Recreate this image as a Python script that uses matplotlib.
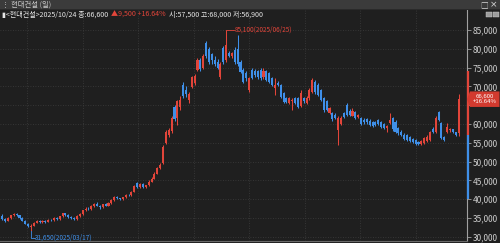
import matplotlib
matplotlib.use('Agg')
import matplotlib.pyplot as plt
from matplotlib.patches import Rectangle, Polygon
from matplotlib.ticker import FuncFormatter
import matplotlib.transforms as mtransforms
import numpy as np

plt.rcParams['font.family'] = ['Noto Sans CJK KR', 'DejaVu Sans']

# ---------------- data ----------------
opens = [
    35500, 34800, 34300, 35000, 35700, 36100, 35700, 35000, 34300, 33500,
    32600, 33000, 33800, 34300, 33900, 34200, 34000, 34600, 34400, 35000,
    34700, 35400, 36200, 35800, 35300, 35000, 34700, 35500, 36000, 37000,
    37500, 37300, 38200, 38800, 38300, 37800, 38600, 38300, 39000, 39800,
    40600, 40200, 40000, 40500, 41200, 41000, 42000, 44200, 43300, 44000,
    43300, 43700, 44700, 45500, 46800, 48200, 49500, 55000, 57000, 58200,
    64500, 61500, 64500, 70500, 69000, 66500, 69800, 71000, 74400, 77000,
    75000, 81500, 80000, 78500, 77000, 76500, 72500, 80200, 77000, 79000,
    78200, 79700, 80000, 76500, 74400, 73500, 69000, 74400, 74200, 74000,
    74400, 72500, 74000, 73500, 72200, 69500, 71000, 70400, 68200, 66900,
    65600, 66000, 66900, 66900, 64800, 67000, 65500, 66900, 68500, 71200,
    70400, 69000, 66900, 66000, 62900, 62900, 62500, 58500, 60000, 63000,
    65000, 63500, 62200, 63200, 61800, 61600, 61000, 61200, 60800, 60500,
    60400, 61000, 60400, 60000, 58900, 60300, 61600, 60500, 58900, 58000,
    57100, 57000, 56600, 56000, 55700, 55200, 54600, 55000, 55500, 55700,
    58800, 57900, 63200, 60200, 56600, 57900, 58300, 58600, 57800, 57500,
]
closes = [
    34800, 34300, 35000, 35700, 36100, 35700, 35000, 34300, 33500, 32800,
    33000, 33800, 34300, 33900, 34200, 34000, 34600, 34400, 35000, 34700,
    35400, 36200, 35800, 35300, 35000, 34700, 35500, 36000, 37000, 37500,
    37300, 38200, 38800, 38300, 37800, 38600, 38300, 39000, 39800, 40600,
    40200, 40000, 40500, 41200, 41000, 42000, 43500, 43300, 44000, 43300,
    43700, 44700, 45500, 46800, 48200, 49200, 54000, 58000, 58500, 61500,
    61200, 66000, 66500, 67500, 68000, 68000, 72500, 72800, 77000, 74500,
    78000, 78000, 76500, 77000, 76000, 75000, 76000, 76500, 81000, 78200,
    78800, 76500, 76000, 73800, 71200, 72200, 72200, 72200, 73000, 72500,
    72200, 74000, 71800, 71200, 70400, 70500, 70500, 67200, 65800, 65800,
    66900, 66500, 65500, 64500, 68200, 66000, 67000, 69000, 71700, 68500,
    67800, 66500, 63700, 63800, 64300, 61200, 61500, 61500, 61600, 61800,
    62500, 62500, 63500, 61600, 62300, 60000, 60500, 60400, 59800, 59500,
    59800, 60000, 59200, 58900, 59600, 61100, 58600, 57900, 57500, 57200,
    56000, 55700, 55400, 55200, 54800, 54600, 55500, 56300, 56600, 57900,
    57900, 61600, 61000, 56300, 55800, 59200, 58700, 57800, 57100, 66600,
]
highs = [
    36000, 35100, 35200, 35900, 36400, 36300, 35800, 35200, 34500, 33700,
    33400, 34000, 34500, 34500, 34400, 34400, 34800, 34800, 35200, 35200,
    35600, 36400, 36400, 36000, 35500, 35200, 35700, 36200, 37200, 37800,
    37800, 38400, 39000, 39200, 38500, 38800, 38900, 39200, 40000, 40800,
    40900, 40400, 40700, 41400, 41500, 42200, 43700, 44500, 44300, 44200,
    43900, 45000, 45800, 47200, 48600, 49600, 54400, 58400, 59000, 62000,
    65000, 66400, 67500, 71200, 70000, 68500, 72800, 73300, 77500, 77500,
    78500, 82000, 80500, 79000, 78000, 77200, 76500, 80800, 85100, 79500,
    79200, 80500, 83700, 77000, 74800, 74000, 72500, 74800, 74600, 74400,
    74800, 75000, 74300, 73800, 72500, 72200, 71500, 70700, 68500, 67200,
    67200, 67000, 67200, 67200, 69000, 67300, 67500, 69500, 72200, 71600,
    70800, 69400, 67200, 66300, 64600, 63300, 63000, 62000, 62000, 63300,
    65600, 64000, 64200, 63500, 62600, 61900, 61500, 61500, 61200, 60800,
    60800, 61300, 60700, 60200, 59800, 62900, 61900, 61000, 59200, 58400,
    57500, 57300, 56900, 56300, 56000, 55500, 55800, 56600, 57000, 58200,
    59100, 62000, 63500, 60500, 56900, 60200, 59000, 58800, 58000, 68000,
]
lows = [
    34500, 34000, 34100, 34800, 35500, 35500, 34800, 34100, 33300, 32500,
    31650, 32800, 33600, 33700, 33700, 33800, 33900, 34200, 34300, 34500,
    34600, 35200, 35600, 35100, 34800, 34500, 34600, 35300, 35900, 36800,
    37000, 37100, 38000, 38100, 37500, 37600, 38100, 38200, 38800, 39600,
    40000, 39700, 39900, 40300, 40800, 40800, 41800, 43000, 43100, 43000,
    43100, 43500, 44500, 45300, 46600, 47900, 49300, 54800, 56500, 57600,
    60800, 59700, 63800, 67000, 67200, 65500, 69500, 70500, 74000, 74000,
    74500, 77500, 76000, 76000, 75500, 74500, 72000, 76000, 76500, 77800,
    77500, 76000, 75500, 73500, 70800, 71500, 68500, 72000, 72500, 72000,
    71800, 72000, 71500, 71000, 70000, 67800, 70200, 67000, 65500, 65500,
    65300, 63700, 65200, 64200, 64500, 65700, 65200, 66500, 68200, 68000,
    67500, 66200, 63300, 63500, 62600, 60900, 61200, 54500, 59700, 61500,
    62200, 62200, 62000, 61300, 61500, 59700, 60000, 60000, 59500, 59200,
    59500, 59700, 58900, 58600, 57800, 60000, 58200, 57600, 57200, 56900,
    55700, 55400, 55100, 54900, 54500, 54300, 54400, 54600, 55200, 55400,
    57600, 57500, 60700, 56000, 55500, 57600, 58000, 57500, 56900, 56900,
]

y_ticks = [30000, 35000, 40000, 45000, 50000, 55000, 60000, 65000, 70000, 75000, 80000, 85000]
peak_idx, peak_label = 78, "85,100(2025/06/25)"
low_idx, low_label = 10, "31,650(2025/03/17)"
upper_limit, lower_limit = 74200, 40000
title_text = "⋮ 현대건설 (일)"
info_white1 = "▮<현대건설>2025/10/24 종:66,600"
info_red = "▲9,500 +16.64%"
info_white2 = "시:57,500 고:68,000 저:56,900"
last_label = "66,600\n+16.64%"

# ---------------- style ----------------
BG = '#1f1f1f'
RED = '#e2453a'
BLUE = '#3f8fe8'
GRID = '#3d3d3d'
TXT = '#cfcfcf'

W, H = 500, 243
fig = plt.figure(figsize=(W / 100, H / 100), dpi=100)
fig.patch.set_facecolor(BG)

ax_top_px, ax_bot_px, ax_right_px = 10, 241, 467
ax = fig.add_axes([0, (H - ax_bot_px) / H, ax_right_px / W, (ax_bot_px - ax_top_px) / H])
ax.set_facecolor(BG)

o = np.array(opens, float); c = np.array(closes, float)
hi = np.array(highs, float); lo = np.array(lows, float)
x = np.arange(len(o))
cols = np.where(c >= o, RED, BLUE)

ppx = 5000 / 18.8  # price per pixel
ax.set_ylim(85000 - (ax_bot_px - 30) * ppx, 85000 + (30 - ax_top_px) * ppx)
ax.set_xlim(-0.8, 161.9)

# grid
for t in y_ticks:
    ax.axhline(t, color=GRID, lw=0.6, ls=(0, (1, 2)), zorder=0)
for k in range(8):
    ax.axvline(8.6 + 19.35 * k, color=GRID, lw=0.6, ls=(0, (1, 2)), zorder=0)

# candles
ax.vlines(x, lo, hi, colors=cols, lw=0.75, zorder=2)
ax.bar(x, np.maximum(np.abs(c - o), 120), bottom=np.minimum(o, c), width=0.72,
       color=cols, linewidth=0, zorder=3)

# axes styling
for s in ['left', 'top']:
    ax.spines[s].set_visible(False)
ax.spines['right'].set_color('#a0a0a0')
ax.spines['right'].set_linewidth(0.8)
ax.spines['bottom'].set_color('#6a6a6a')
ax.spines['bottom'].set_linewidth(0.8)
ax.set_xticks([])
ax.yaxis.tick_right()
ax.set_yticks(y_ticks)
hidden_tick = 65000  # covered by the last-price box in the reference
ax.yaxis.set_major_formatter(FuncFormatter(lambda v, p: "" if v == hidden_tick else f"{int(v):,}"))
ax.tick_params(axis='y', colors='#a0a0a0', labelcolor=TXT, labelsize=6.0,
               length=3, width=0.6, pad=1, direction='out')

# daily limit bar on the axis
trans = mtransforms.blended_transform_factory(ax.transAxes, ax.transData)
prev_close = closes[-2]
ax.plot([1.0015, 1.0015], [prev_close, upper_limit], color=RED, lw=1.6,
        transform=trans, clip_on=False, zorder=6, solid_capstyle='butt')
ax.plot([1.0015, 1.0015], [lower_limit, prev_close], color=BLUE, lw=1.6,
        transform=trans, clip_on=False, zorder=6, solid_capstyle='butt')

# peak / low annotations
ax.plot([peak_idx, peak_idx + 2.8], [highs[peak_idx]] * 2, color=RED, lw=0.6, zorder=4)
ax.text(peak_idx + 2.9, highs[peak_idx], peak_label, color=RED, fontsize=4.6,
        va='center', ha='left', zorder=5)
low_y = lows[low_idx] - 7 * ppx
ax.plot([low_idx, low_idx, low_idx + 1.3], [lows[low_idx], low_y, low_y], color=BLUE, lw=0.6, zorder=4)
ax.text(low_idx + 1.4, low_y, low_label, color=BLUE, fontsize=4.6,
        va='center', ha='left', zorder=5)

# last price box (figure pixel coords)
fig.canvas.draw()
renderer = fig.canvas.get_renderer()
yc_disp = ax.transData.transform((0, closes[-1]))[1]
yc = yc_disp / H  # figure fraction (dpi 100 => display px)
bx0, bx1 = 470 / W, 499.5 / W
bh = 15.5 / H
poly = Polygon([(467 / W, yc), (bx0, yc + bh / 2), (bx1, yc + bh / 2),
                (bx1, yc - bh / 2), (bx0, yc - bh / 2)], closed=True,
               transform=fig.transFigure, facecolor='#d23a2f', edgecolor='none', zorder=10)
fig.add_artist(poly)
fig.text(485 / W, yc, last_label, color='white', fontsize=4.3, linespacing=1.05,
         ha='center', va='center', multialignment='center', zorder=11)

# title bar
fig.add_artist(Rectangle((0, 1 - 9 / H), 1, 9 / H, transform=fig.transFigure,
                         facecolor='#3b3b3b', edgecolor='none', zorder=1))
fig.add_artist(Rectangle((0, 1 - 10 / H), 1, 1 / H, transform=fig.transFigure,
                         facecolor='#2a2a2a', edgecolor='none', zorder=1))
fig.text(2 / W, 1 - 4.8 / H, title_text, color='#c8c8c8', fontsize=5.3, va='center', ha='left')
fig.text(484 / W, 1 - 4.8 / H, "□", color='#d8d8d8', fontsize=5.5, va='center', ha='center')
fig.text(494 / W, 1 - 4.8 / H, "×", color='#d8d8d8', fontsize=6.5, va='center', ha='center',
         family='DejaVu Sans')
# small icons below title bar
for bx in (486, 493):
    fig.add_artist(Rectangle((bx / W, 1 - 17.5 / H), 6 / W, 5 / H, transform=fig.transFigure,
                             facecolor='#9c9c9c', edgecolor='#cfcfcf', lw=0.3, zorder=12))

# info line: place pieces one after another
iy = 1 - 14.5 / H
xpos = 2.0
for txt, col in ((info_white1, '#e6e6e6'), (info_red, RED), (info_white2, '#e6e6e6')):
    t = fig.text(xpos / W, iy, txt, color=col, fontsize=5.1, va='center', ha='left', zorder=12)
    bb = t.get_window_extent(renderer=renderer)
    xpos = bb.x1 + 3

fig.savefig('out.png', dpi=100, facecolor=BG)
